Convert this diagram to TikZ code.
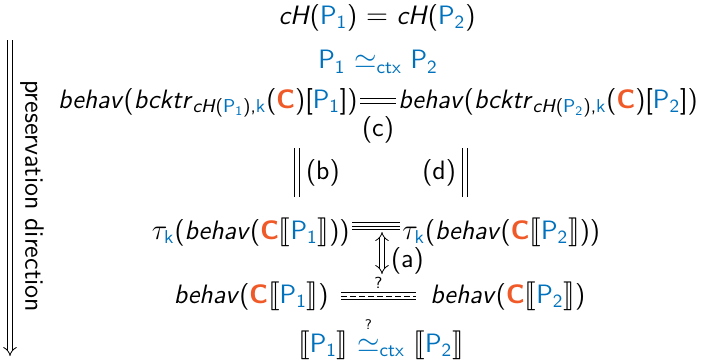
\documentclass[tikz,border=0pt]{standalone}
\usepackage{amsmath}
\usepackage{stmaryrd}
\usetikzlibrary{arrows.meta, positioning}
\renewcommand{\familydefault}{\sfdefault}
\definecolor{pblue}{RGB}{0,114,189}
\definecolor{corange}{RGB}{240,90,40}
\newcommand{\pone}{\textcolor{pblue}{\ensuremath{\text{P}_{\text{1}}}}}
\newcommand{\ptwo}{\textcolor{pblue}{\ensuremath{\text{P}_{\text{2}}}}}
\newcommand{\ctxC}{\textcolor{corange}{\textbf{C}}}
\newcommand{\kk}{\textcolor{pblue}{\text{k}}}

\begin{document}
\begin{tikzpicture}[x=0.5pt, y=-0.5pt, font=\fontsize{13.3}{15}\selectfont,
            t/.style={inner sep=1pt},
            eqtwo/.style={double, double distance=2pt, line width=0.4pt},
            eqthree/.style={double, double distance=3.2pt, line width=0.4pt}]
            \useasboundingbox (0,0) rectangle (704,360);
            \node[t] (hash) at (377,18) {\textit{cH}(\pone) $=$ \textit{cH}(\ptwo)};
            \node[t] (ctx) at (378,62) {\textcolor{pblue}{P$_{\text{1}}$ $\simeq_{\text{ctx}}$ P$_{\text{2}}$}};
            \node[t, anchor=east] (bl) at (360,103) {\textit{behav}(\textit{bcktr}$_{\text{\textit{cH}(\pone),\kk}}$(\ctxC)[\pone])};
            \node[t, anchor=west] (br) at (396,103) {\textit{behav}(\textit{bcktr}$_{\text{\textit{cH}(\ptwo),\kk}}$(\ctxC)[\ptwo])};
            \node[t, anchor=east] (tl) at (352,232) {$\tau_{\kk}$(\textit{behav}(\ctxC$\llbracket$\pone$\rrbracket$))};
            \node[t, anchor=west] (tr) at (400,232) {$\tau_{\kk}$(\textit{behav}(\ctxC$\llbracket$\ptwo$\rrbracket$))};
            \node[t, anchor=east] (ml) at (331,296) {\textit{behav}(\ctxC$\llbracket$\pone$\rrbracket$)};
            \node[t, anchor=west] (mr) at (428,296) {\textit{behav}(\ctxC$\llbracket$\ptwo$\rrbracket$)};
            \node[t] (sem) at (381,338) {$\llbracket$\pone$\rrbracket$ \textcolor{pblue}{$\overset{\raisebox{2pt}{\textcolor{black}{\scriptsize ?}}}{\simeq}_{\text{ctx}}$} $\llbracket$\ptwo$\rrbracket$};
            % (b), (c), (d)
            \draw[eqtwo] ([yshift=1pt]bl.east) -- ([yshift=1pt]br.west) node[midway, below=4pt] (c) {(c)};
            \coordinate (bt) at (297,148); \coordinate (bb) at (297,197);
            \coordinate (dt) at (465,148); \coordinate (db) at (465,197);
            \draw[eqtwo] (bt) -- (bb) node[midway, right=1pt] (b) {(b)};
            \draw[eqtwo] (dt) -- (db) node[midway, left=1pt] (d) {(d)};
            % (a)
            \draw[eqthree] ([yshift=3pt]tl.east) -- ([yshift=3pt]tr.west);
            \draw[line width=0.4pt] ([yshift=3pt]tl.east) -- ([yshift=3pt]tr.west);
            \coordinate (at) at (382,232); \coordinate (ab) at (382,274);
            \draw[eqtwo, {Implies}-{Implies}] (at) -- (ab) node[pos=0.68, right=1pt] (a) {(a)};
            \draw[eqthree] ([xshift=5pt]ml.east) -- ([xshift=-6pt]mr.west)
                node[midway, above=0pt, font=\footnotesize] (q) {?};
            \draw[line width=0.4pt, dash pattern=on 3pt off 1.5pt] ([xshift=5pt]ml.east) -- ([xshift=-6pt]mr.west);
            % direction
            \coordinate (dirtop) at (10,40); \coordinate (dirbot) at (10,356);
            \draw[eqtwo, -{Implies}] (dirtop) -- (dirbot);
            \node[t, rotate=-90] (dir) at (32,196) {preservation direction};
        \end{tikzpicture}
\end{document}
